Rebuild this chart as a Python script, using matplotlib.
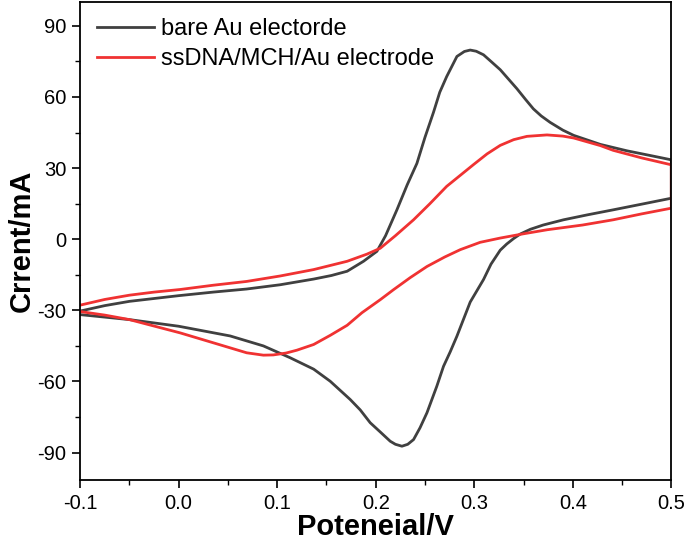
import matplotlib.pyplot as plt
import numpy as np

plt.rcParams['font.family'] = ['Liberation Sans', 'DejaVu Sans']
plt.rcParams['axes.unicode_minus'] = False

# bare Au electrode: forward scan (-0.1 -> 0.5) then reverse scan
bare_E = [-0.1, -0.075, -0.05, -0.025, 0.0, 0.035, 0.069, 0.103, 0.137, 0.155,
          0.171, 0.1876, 0.2012, 0.21, 0.2215, 0.232, 0.2418, 0.25, 0.2586,
          0.265, 0.272, 0.2824, 0.29, 0.2959, 0.302, 0.3094, 0.317, 0.3264,
          0.3433, 0.352, 0.36, 0.368, 0.377, 0.39, 0.401, 0.428, 0.455, 0.48, 0.5,
          0.5, 0.47, 0.441, 0.415, 0.3906, 0.37, 0.357, 0.3467, 0.34, 0.333,
          0.3264, 0.317, 0.3094, 0.2959, 0.2824, 0.2756, 0.2688, 0.262, 0.252,
          0.245, 0.2384, 0.2325, 0.2266, 0.22, 0.2147, 0.2046, 0.1944, 0.1843,
          0.1741, 0.1538, 0.137, 0.1132, 0.086, 0.0523, 0.0, -0.05, -0.1]
bare_I = [-30.3, -28.0, -26.2, -25.0, -23.8, -22.3, -21.0, -19.2, -16.8, -15.3,
          -13.5, -9.3, -5.1, 1.5, 12.4, 23.0, 32.0, 43.0, 53.5,
          62.0, 68.6, 77.1, 79.2, 79.8, 79.3, 77.8, 75.0, 71.5,
          63.5, 59.0, 55.0, 52.0, 49.3, 46.0, 43.8, 40.0, 37.3, 35.2, 33.5,
          17.3, 14.8, 12.4, 10.3, 8.2, 6.0, 4.2, 2.2, 0.3, -2.0,
          -4.6, -10.5, -17.0, -26.5, -40.9, -47.5, -53.6, -62.0, -73.2,
          -79.5, -84.5, -86.5, -87.3, -86.5, -85.2, -81.3, -77.4, -72.0,
          -67.6, -59.9, -54.8, -50.0, -45.0, -40.8, -36.7, -33.9, -31.8]

# ssDNA/MCH/Au electrode
dna_E = [-0.1, -0.075, -0.05, -0.025, 0.0015, 0.035, 0.069, 0.103, 0.137, 0.171,
         0.191, 0.2046, 0.22, 0.2384, 0.255, 0.272, 0.2993, 0.313, 0.3264,
         0.34, 0.3535, 0.3738, 0.39, 0.401, 0.428, 0.441, 0.47, 0.5,
         0.5, 0.47, 0.441, 0.41, 0.374, 0.35, 0.3264, 0.306, 0.2858, 0.27,
         0.252, 0.235, 0.218, 0.2046, 0.186, 0.171, 0.154, 0.137, 0.12, 0.109,
         0.096, 0.086, 0.069, 0.0353, 0.0015, -0.05, -0.075, -0.1]
dna_I = [-27.8, -25.4, -23.6, -22.3, -21.2, -19.4, -17.8, -15.5, -12.8, -9.3,
         -6.3, -3.8, 1.5, 8.2, 15.0, 22.3, 31.5, 36.0, 39.6,
         42.0, 43.4, 44.0, 43.5, 42.7, 39.5, 37.5, 34.3, 31.4,
         13.1, 10.7, 8.2, 6.0, 4.0, 2.3, 0.5, -1.3, -4.4, -7.5,
         -11.5, -16.2, -21.3, -25.5, -31.0, -36.3, -40.5, -44.4, -46.8, -48.0,
         -48.8, -48.9, -47.9, -43.7, -39.5, -33.9, -32.0, -30.5]

fig = plt.figure(figsize=(6.85, 5.41), dpi=100)
ax = fig.add_axes([0.117, 0.113, 0.863, 0.883])

ax.plot(bare_E, bare_I, color='#404040', lw=2.0, solid_joinstyle='round',
        label='bare Au electorde')
ax.plot(dna_E, dna_I, color='#f03232', lw=2.0, solid_joinstyle='round',
        label='ssDNA/MCH/Au electrode')

ax.set_xlim(-0.1, 0.5)
ax.set_ylim(-101.5, 100)
ax.set_xticks(np.arange(-0.1, 0.51, 0.1))
ax.set_xticklabels(['-0.1', '0.0', '0.1', '0.2', '0.3', '0.4', '0.5'])
ax.set_xticks(np.arange(-0.05, 0.5, 0.1), minor=True)
ax.set_yticks([-90, -60, -30, 0, 30, 60, 90])
ax.set_yticks([-75, -45, -15, 15, 45, 75], minor=True)
ax.tick_params(which='major', direction='out', length=6, width=1.2,
               labelsize=14.5, pad=4)
ax.tick_params(which='minor', direction='out', length=3.5, width=1.0)
for s in ax.spines.values():
    s.set_linewidth(1.3)

ax.set_xlabel('Poteneial/V', fontsize=21, fontweight='bold', labelpad=0)
ax.set_ylabel('Crrent/mA', fontsize=21, fontweight='bold', labelpad=1)

ax.legend(loc='upper left', frameon=False, fontsize=17, handlelength=2.4,
          handletextpad=0.3, labelspacing=0.33, borderpad=0, borderaxespad=0,
          bbox_to_anchor=(17 / 591, 1 - 16 / 478))

fig.savefig('out.png', dpi=100)
